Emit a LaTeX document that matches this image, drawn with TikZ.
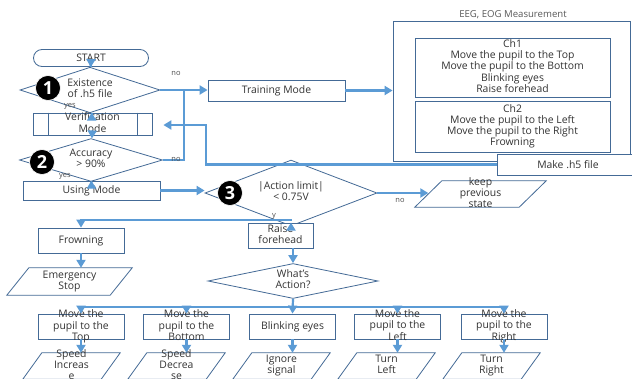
\documentclass[tikz,border=0pt]{standalone}
\usepackage{fontspec}
\setmainfont{Open Sans}
\usepackage{xcolor}
\usepackage{tikz}
\usetikzlibrary{shapes.geometric,arrows.meta}
\definecolor{flowblue}{RGB}{91,155,213}
\definecolor{edgeblue}{RGB}{68,106,150}
\newcommand{\squeeze}[1]{\raisebox{-0.25em}[0pt][0pt]{\begin{tabular}{@{}c@{}}#1\end{tabular}}}

\begin{document}
\begin{tikzpicture}[x=1pt, y=-1pt,
    every node/.style={inner sep=0pt, font=\fontsize{10.4}{11}\selectfont, text=black!80},
    box/.style={rectangle, draw=edgeblue, fill=white, line width=0.8pt},
    term/.style={box, rounded corners=8.5pt},
    decision/.style={diamond, draw=edgeblue, fill=white, line width=0.8pt},
    io/.style={rectangle, append after command={\pgfextra{\draw[edgeblue, line width=0.8pt]
        ([xshift=#1]\tikzlastnode.north west) -- (\tikzlastnode.north east)
        -- ([xshift=-#1]\tikzlastnode.south east) -- (\tikzlastnode.south west) -- cycle;}}},
    badge/.style={circle, fill=black, draw=white, line width=0.6pt, minimum size=25pt, text=white, font=\fontsize{18}{18}\selectfont\bfseries},
    tag/.style={font=\fontsize{7.5}{8}\selectfont, text=black!70},
    flow/.style={draw=flowblue, line width=2.2pt, -{Triangle[width=9pt,length=8pt]}},
    wire/.style={draw=flowblue, line width=2.2pt}]
    \useasboundingbox[fill=white] (0,0) rectangle (632,378);

    \node[term, minimum width=115pt, minimum height=17pt] (start) at (91,58) {START};
    \node[decision, minimum width=140pt, minimum height=26pt] (exist) at (90,90) {\squeeze{Existence\\of .h5 file}};
    \node[box, minimum width=119pt, minimum height=22pt] (verif) at (92.5,124) {\squeeze{Verification\\Mode}};
    \draw[edgeblue, line width=0.8pt] ([xshift=16pt]verif.north west) -- ([xshift=16pt]verif.south west)
        ([xshift=-15pt]verif.north east) -- ([xshift=-15pt]verif.south east);
    \node[decision, minimum width=143pt, minimum height=24pt] (acc) at (91,160) {\squeeze{Accuracy\\> 90\%}};
    \node[box, minimum width=137pt, minimum height=19pt] (using) at (91.5,190.5) {Using Mode};
    \node[box, minimum width=137pt, minimum height=21pt] (train) at (276.5,90.5) {Training Mode};

    \node[box, minimum width=237pt, minimum height=140pt] (eeg) at (511.5,91) {};
    \node[font=\fontsize{9.6}{10}\selectfont, text=black!65] (eegtitle) at (513,15) {EEG, EOG Measurement};
    \node[box, minimum width=195pt, minimum height=59pt] (ch1) at (512.5,67.5)
        {\squeeze{Ch1\\Move the pupil to the Top\\Move the pupil to the Bottom\\Blinking eyes\\Raise forehead}};
    \node[box, minimum width=195pt, minimum height=51pt] (ch2) at (512.5,126.5)
        {\squeeze{Ch2\\Move the pupil to the Left\\Move the pupil to the Right\\Frowning}};
    \node[box, minimum width=142pt, minimum height=21pt] (make) at (568,164.5) {Make .h5 file};

    \node[decision, minimum width=172pt, minimum height=34pt] (limit) at (291,193) {\squeeze{|Action limit|\\< 0.75V}};
    \node[io=27pt, minimum width=131pt, minimum height=26pt] (keep) at (480.5,194) {\squeeze{keep\\previous\\state}};
    \node[box, minimum width=65pt, minimum height=25pt] (raise) at (280.5,235.5) {\squeeze{Raise\\forehead}};
    \node[box, minimum width=86pt, minimum height=25pt] (frown) at (81,240.5) {Frowning};
    \node[io=22pt, minimum width=125pt, minimum height=27pt] (emerg) at (69.5,281.5) {\squeeze{Emergency\\Stop}};
    \node[decision, minimum width=170pt, minimum height=32pt] (action) at (293,281) {\squeeze{What’s\\Action?}};

    \tikzset{movebox/.style={box, minimum width=86pt, minimum height=25pt},
        resultbox/.style={io=19pt, minimum width=97pt, minimum height=26pt}}
    \node[movebox] (mtop) at (81,326.5) {\squeeze{Move the\\pupil to the\\Top}};
    \node[movebox] (mbot) at (186.5,326.5) {\squeeze{Move the\\pupil to the\\Bottom}};
    \node[movebox] (blink) at (292.5,326.5) {Blinking eyes};
    \node[movebox] (mleft) at (397.5,326.5) {\squeeze{Move the\\pupil to the\\Left}};
    \node[movebox] (mright) at (504,326.5) {\squeeze{Move the\\pupil to the\\Right}};
    \node[resultbox] (inc) at (71.5,366) {\squeeze{Speed\\Increas\\e}};
    \node[resultbox] (dec) at (176.5,366) {\squeeze{Speed\\Decrea\\se}};
    \node[resultbox] (ign) at (281.5,366) {\squeeze{Ignore\\signal}};
    \node[resultbox] (tleft) at (386.5,366) {\squeeze{Turn\\Left}};
    \node[resultbox] (tright) at (491.5,366) {\squeeze{Turn\\Right}};

    \coordinate (j1) at (184,90);
    \coordinate (j2) at (206,125);
    \coordinate (j3) at (292,220);
    \coordinate (bus) at (293,307);
    \coordinate (keepin) at ([xshift=13.5pt]keep.west);
    \draw[flow] (start) -- (exist);
    \draw[flow] (exist) -- (verif);
    \draw[flow] (verif) -- (acc);
    \draw[flow] (acc) -- (using);
    \draw[flow] (exist.east) -- (exist.east -| train.west);
    \draw[wire] (acc.east) -| (j1);
    \draw[flow] (train.east) -- (train.east -| eeg.west);
    \draw[flow, shorten >=11pt] (make.west) -| (j2) -- (j2 -| verif.east);
    \draw[flow] (using.east) -- (using.east -| limit.west);
    \draw[flow] (limit.east) -- (limit.east -| keepin);
    \draw[flow] (limit.south) -- (limit.south |- raise.north);
    \draw[flow] (j3) -| (frown.north);
    \draw[flow] (frown.south) -- (frown.south |- emerg.north);
    \draw[flow] (action.north |- raise.south) -- (action.north);
    \draw[flow] (action.south) -- (blink.north);
    \draw[flow] (bus) -| (mtop.north);
    \draw[flow] (bus) -| (mbot.north);
    \draw[flow] (bus) -| (mleft.north);
    \draw[flow] (bus) -| (mright.north);
    \draw[flow] (mtop.south) -- (mtop.south |- inc.north);
    \draw[flow] (mbot.south) -- (mbot.south |- dec.north);
    \draw[flow] (blink.south) -- (blink.south |- ign.north);
    \draw[flow] (mleft.south) -- (mleft.south |- tleft.north);
    \draw[flow] (mright.south) -- (mright.south |- tright.north);

    \node[badge] (b1) at (48,88) {1};
    \node[badge] (b2) at (42,162) {2};
    \node[badge] (b3) at (230,193) {3};
    \node[tag] (no1) at (176,73) {no};
    \node[tag] (yes1) at (70,106) {yes};
    \node[tag] (no2) at (176,159) {no};
    \node[tag] (yes2) at (65,176) {yes};
    \node[tag] (no3) at (400,200) {no};
    \node[tag] (y3) at (274,216) {y};
\end{tikzpicture}
\end{document}
